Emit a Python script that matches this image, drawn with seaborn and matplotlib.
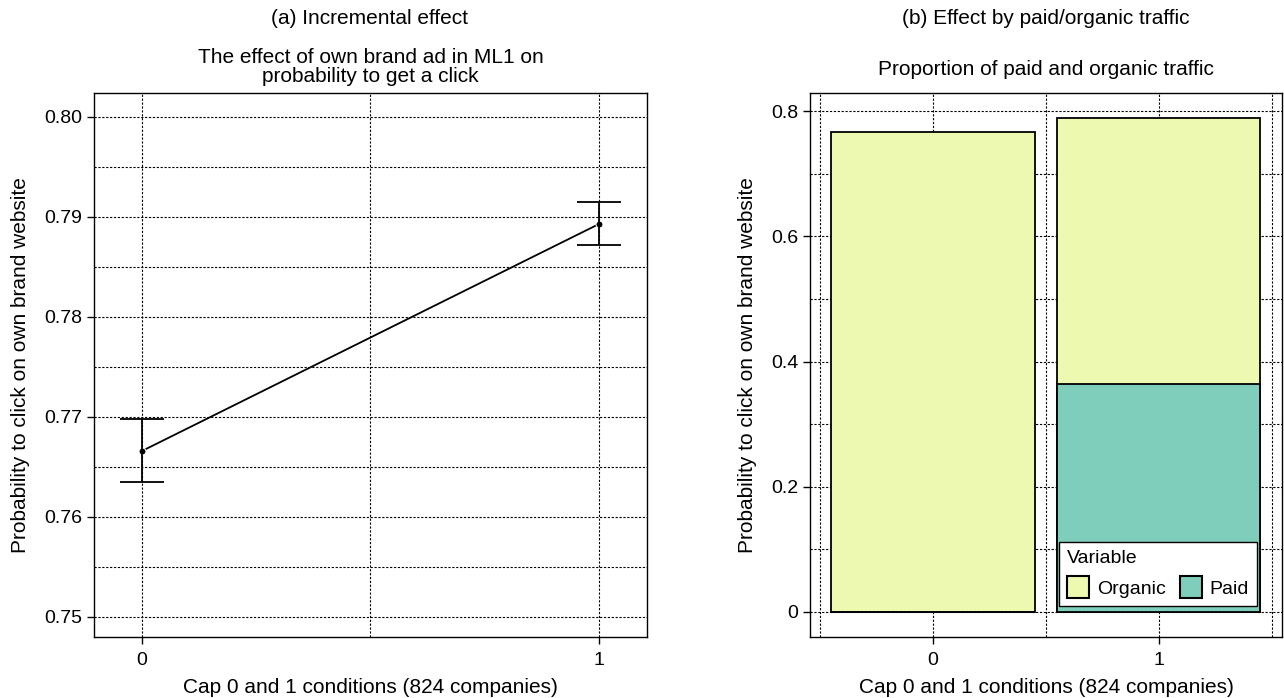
# 复现：Cap 0/1 条件下自家品牌广告对点击概率的影响（左：增量效应，右：付费/自然流量占比）

import pandas as pd
import seaborn as sns
import matplotlib.pyplot as plt
from matplotlib.patches import Patch
from matplotlib.ticker import MultipleLocator, FixedLocator, FuncFormatter

# 左图数据：点估计和误差区间
conditions = [0, 1]
click_prob = [0.7666, 0.7893]
err_low = [0.7635, 0.7872]
err_high = [0.7698, 0.7915]

# 右图数据：付费 / 自然流量
traffic_cond = ['0', '1']
organic = [0.767, 0.425]
paid = [0.0, 0.364]

organic_color = '#edf8b1'
paid_color = '#7fcdbb'

sns.set_style('ticks')
plt.rcParams['font.family'] = ['Liberation Sans', 'DejaVu Sans']
plt.rcParams['font.size'] = 14
plt.rcParams['text.color'] = 'black'
plt.rcParams['axes.labelcolor'] = 'black'
plt.rcParams['xtick.color'] = 'black'
plt.rcParams['ytick.color'] = 'black'

label_size = 15
title_size = 15

df_line = pd.DataFrame({'cond': conditions, 'prob': click_prob,
                        'low': err_low, 'high': err_high})
df_bar = pd.DataFrame({'cond': traffic_cond, 'organic': organic, 'paid': paid})
df_bar['total'] = df_bar['organic'] + df_bar['paid']

fig = plt.figure(figsize=(12.84, 6.98), dpi=100)
ax1 = fig.add_axes([0.0732, 0.0874, 0.4307, 0.7794])
ax2 = fig.add_axes([0.6308, 0.0874, 0.3676, 0.7794])

grid_style = dict(color='black', linestyle=(0, (2, 1.5)), linewidth=0.8)

# ---- 左图 ----
sns.lineplot(data=df_line, x='cond', y='prob', ax=ax1, color='black',
             linewidth=1.3, marker='o', markersize=5, zorder=3)
ax1.errorbar(df_line['cond'], df_line['prob'],
             yerr=[df_line['prob'] - df_line['low'], df_line['high'] - df_line['prob']],
             fmt='none', ecolor='black', elinewidth=1.3, capsize=16, capthick=1.3, zorder=3)
ax1.set_xlim(-0.105, 1.105)
ax1.set_ylim(0.748, 0.8024)
ax1.set_xticks([0, 1])
ax1.set_yticks([0.75, 0.76, 0.77, 0.78, 0.79, 0.80])
ax1.yaxis.set_major_formatter(FuncFormatter(lambda v, p: f'{v:.2f}'))
ax1.xaxis.set_minor_locator(FixedLocator([0.5]))
ax1.yaxis.set_minor_locator(MultipleLocator(0.005))
ax1.set_xlabel('Cap 0 and 1 conditions (824 companies)', fontsize=label_size, labelpad=6)
ax1.set_ylabel('Probability to click on own brand website', fontsize=label_size, labelpad=10)
ax1.set_title('The effect of own brand ad in ML1 on\nprobability to get a click',
              pad=8, linespacing=1.0, fontsize=title_size)

# ---- 右图 ----
sns.barplot(data=df_bar, x='cond', y='total', ax=ax2, color=organic_color,
            width=0.9, edgecolor='black', linewidth=1.3, saturation=1, zorder=2)
sns.barplot(data=df_bar, x='cond', y='paid', ax=ax2, color=paid_color,
            width=0.9, edgecolor='black', linewidth=1.3, saturation=1, zorder=2)
ax2.set_xlim(-0.545, 1.545)
ax2.set_ylim(-0.04, 0.829)
ax2.set_yticks([0, 0.2, 0.4, 0.6, 0.8])
ax2.yaxis.set_major_formatter(FuncFormatter(lambda v, p: '0' if abs(v) < 1e-9 else f'{v:g}'))
ax2.xaxis.set_minor_locator(FixedLocator([-0.5, 0.5, 1.5]))
ax2.yaxis.set_minor_locator(MultipleLocator(0.1))
ax2.set_xlabel('Cap 0 and 1 conditions (824 companies)', fontsize=label_size, labelpad=6)
ax2.set_ylabel('Probability to click on own brand website', fontsize=label_size, labelpad=10)
ax2.set_title('Proportion of paid and organic traffic', pad=13, fontsize=title_size)

handles = [Patch(facecolor=organic_color, edgecolor='black', linewidth=1.5),
           Patch(facecolor=paid_color, edgecolor='black', linewidth=1.5)]
leg = ax2.legend(handles, ['Organic', 'Paid'], title='Variable', ncol=2,
                 loc='lower right', bbox_to_anchor=(0.947, 0.057), borderaxespad=0,
                 fancybox=False, framealpha=1, edgecolor='black',
                 handlelength=1.15, handleheight=1.35, columnspacing=0.7,
                 handletextpad=0.4, borderpad=0.4, alignment='left', fontsize=14)
leg.get_frame().set_linewidth(1.0)
leg.get_title().set_fontsize(14)

for ax in (ax1, ax2):
    ax.set_axisbelow(True)
    ax.grid(True, which='both', **grid_style)
    for s in ax.spines.values():
        s.set_visible(True)
        s.set_color('black')
        s.set_linewidth(1.0)
    ax.tick_params(which='major', direction='out', length=5, width=1, color='black',
                   labelsize=14)
    ax.tick_params(axis='x', which='major', pad=6)
    ax.tick_params(axis='y', which='major', pad=3.5)
    ax.tick_params(which='minor', length=0)

fig.text(0.288, 0.974, '(a) Incremental effect', ha='center', va='center', fontsize=title_size)
fig.text(0.8146, 0.974, '(b) Effect by paid/organic traffic', ha='center', va='center',
         fontsize=title_size)

plt.savefig('out.png', dpi=100)
